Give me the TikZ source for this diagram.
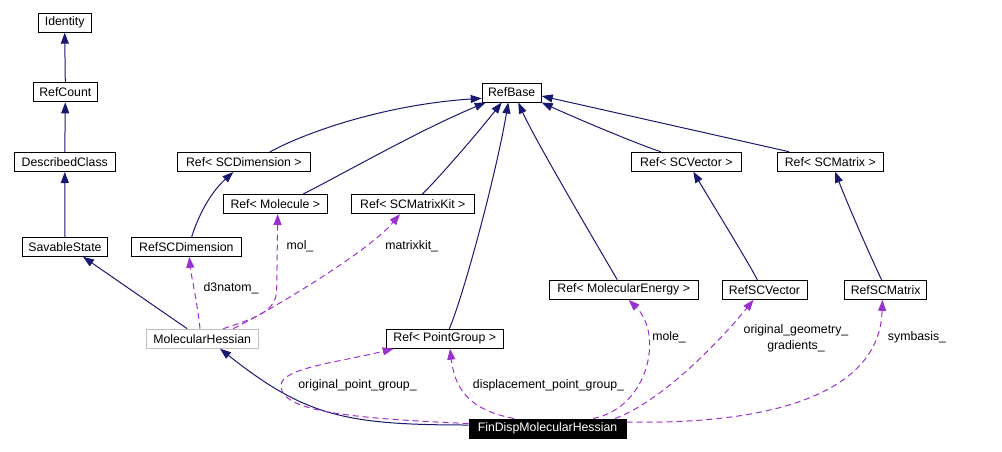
\documentclass[tikz,border=0pt]{standalone}
\usepackage{fontspec}
\setmainfont{Liberation Sans}
\usetikzlibrary{arrows.meta}
\definecolor{navy}{RGB}{25,25,112}
\definecolor{purp}{RGB}{154,50,205}
\definecolor{grayb}{RGB}{191,191,191}
\begin{document}
\begin{tikzpicture}[x=1pt,y=-1pt,
  cls/.style={draw=black, line width=1pt, rectangle, inner sep=0pt, minimum height=19pt, font=\fontsize{12.3}{14}\selectfont},
  inh/.style={draw=navy, line width=1pt, -{Triangle[length=11pt,width=8pt]}},
  dep/.style={draw=purp, line width=1pt, dash pattern=on 6pt off 4pt, -{Triangle[length=11pt,width=8pt]}},
  lbl/.style={inner sep=0pt, font=\fontsize{12.3}{16}\selectfont, align=center}]
\fill[white] (0,0) rectangle (1002,451);
\useasboundingbox (0,0) rectangle (1002,451);
% classes
\node[cls, minimum width=53pt] (identity) at (64.7,22.7) {Identity};
\node[cls, minimum width=64pt] (refcount) at (65.3,92.3) {RefCount};
\node[cls, minimum width=101pt] (described) at (64.8,162) {DescribedClass};
\node[cls, minimum width=85pt] (savable) at (65,246.8) {SavableState};
\node[cls, minimum width=133pt] (rscdim) at (243.8,162) {Ref< SCDimension >};
\node[cls, minimum width=104pt] (rmol) at (275.3,204) {Ref< Molecule >};
\node[cls, minimum width=123pt] (rmk) at (412.8,204) {Ref< SCMatrixKit >};
\node[cls, minimum width=110pt] (rscd) at (186.3,246.8) {RefSCDimension};
\node[cls, minimum width=59pt] (refbase) at (511.7,92.5) {RefBase};
\node[cls, minimum width=110pt] (rscv) at (686.3,161.7) {Ref< SCVector >};
\node[cls, minimum width=106pt] (rscm) at (830.3,161.7) {Ref< SCMatrix >};
\node[cls, minimum width=149pt] (rme) at (623.7,289.8) {Ref< MolecularEnergy >};
\node[cls, minimum width=85pt] (rscvec) at (764.5,289.8) {RefSCVector};
\node[cls, minimum width=82pt] (rscmat) at (885.6,289.8) {RefSCMatrix};
\node[cls, draw=grayb, minimum width=112pt] (mh) at (202.2,338.7) {MolecularHessian};
\node[cls, minimum width=117pt] (rpg) at (444.7,338.7) {Ref< PointGroup >};
\node[cls, fill=black, text=white, minimum width=157pt] (fd) at (547.5,428.5) {FinDispMolecularHessian};
% inheritance / template edges
\draw[inh] (refcount.north) -- (identity.south);
\draw[inh] (described.north) -- (refcount.south);
\draw[inh] (savable.north) -- (described.south);
\draw[inh] ([xshift=-15pt]mh.north) -- ([xshift=18pt]savable.south);
\draw[inh] ([xshift=5.4pt]rscd.north) .. controls (197,220) and (208,195) .. ([xshift=-10.5pt]rscdim.south);
\draw[inh] ([xshift=26pt]rscdim.north) .. controls (300,135) and (380,105) .. ([yshift=-5.8pt]refbase.west);
\draw[inh] ([xshift=28pt]rmol.north) .. controls (350,170) and (420,130) .. ([xshift=-26pt]refbase.south);
\draw[inh] ([xshift=9.5pt]rmk.north) .. controls (435,182) and (472,140) .. ([xshift=-10pt]refbase.south);
\draw[inh] ([xshift=4.6pt]rpg.north) .. controls (462,300) and (495,180) .. ([xshift=-3.4pt]refbase.south);
\draw[inh] ([xshift=-6.4pt]rme.north) .. controls (600,250) and (535,140) .. ([xshift=6.6pt]refbase.south);
\draw[inh] ([xshift=-25.6pt]rscv.north) .. controls (640,145) and (580,120) .. (refbase.south east);
\draw[inh] ([xshift=-41.3pt]rscm.north) -- ([yshift=-3.5pt]refbase.east);
\draw[inh] ([xshift=-7.2pt]rscvec.north) .. controls (750,265) and (710,200) .. ([xshift=7pt]rscv.south);
\draw[inh] ([xshift=-4pt]rscmat.north) .. controls (873,262) and (850,210) .. ([xshift=4.7pt]rscm.south);
\draw[inh] ([yshift=3.5pt]fd.west) .. controls (345,425) and (305,416) .. ([xshift=17.8pt]mh.south);
% usage edges
\draw[dep] ([xshift=-2.2pt]mh.north) .. controls (197,300) and (191,275) .. ([xshift=3pt]rscd.south);
\draw[dep] ([xshift=21pt]mh.north) .. controls (255,318) and (276,312) .. (276.7,290) -- ([xshift=2.4pt]rmol.south);
\draw[dep] ([xshift=31pt]mh.north) .. controls (280,305) and (370,250) .. ([xshift=-12.8pt]rmk.south);
\draw[dep] ([yshift=5pt]fd.west) .. controls (340,418) and (280,410) .. (281,385) .. controls (282,368) and (340,362) .. ([xshift=-51pt]rpg.south);
\draw[dep] ([xshift=-33.5pt]fd.north) .. controls (470,410) and (455,390) .. ([xshift=5.3pt]rpg.south);
\draw[dep] ([xshift=45.5pt]fd.north) .. controls (648,408) and (664,335) .. ([xshift=5pt]rme.south);
\draw[dep] ([xshift=67.5pt]fd.north) .. controls (665,400) and (725,335) .. ([xshift=-11pt]rscvec.south);
\draw[dep] ([yshift=6.5pt]fd.east) .. controls (780,425) and (880,390) .. ([xshift=-3.2pt]rscmat.south);
% labels
\node[lbl] (l1) at (231,288) {d3natom\_};
\node[lbl] (l2) at (300,246) {mol\_};
\node[lbl] (l3) at (411.7,246) {matrixkit\_};
\node[lbl] (l4) at (357.5,385) {original\_point\_group\_};
\node[lbl] (l5) at (548.5,385.5) {displacement\_point\_group\_};
\node[lbl] (l6) at (669,337.5) {mole\_};
\node[lbl] (l7) at (796,338) {original\_geometry\_\\gradients\_};
\node[lbl] (l8) at (917,337.5) {symbasis\_};
\end{tikzpicture}
\end{document}
